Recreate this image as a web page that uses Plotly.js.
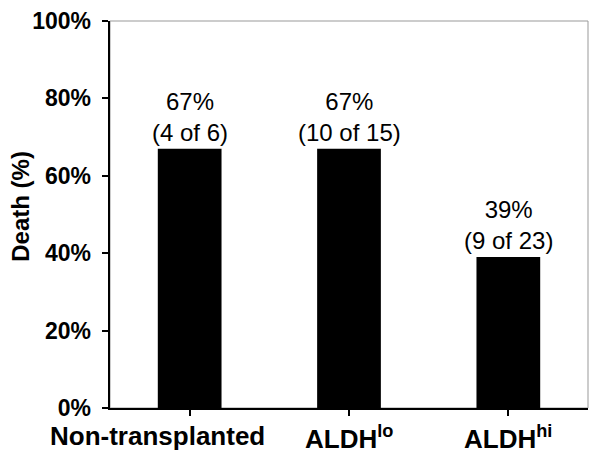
<!DOCTYPE html>
<html>
<head>
<meta charset="utf-8">
<script src="https://cdn.plot.ly/plotly-3.0.1.min.js"></script>
<style>
  html, body { margin: 0; padding: 0; background: #fff; }
  #myDiv { width: 602px; height: 464px; }
</style>
</head>
<body>
<div id="myDiv"></div>
<script>
// groups and death rates
var categories = ['Non-transplanted', 'ALDH<sup>lo</sup>', 'ALDH<sup>hi</sup>'];
var deathPct = [67, 67, 39];
var deaths = [4, 10, 9];
var totals = [6, 15, 23];
var yTicks = [0, 20, 40, 60, 80, 100];
var yTitle = 'Death (%)';

var xIdx = [0, 1, 2];
var fontFam = 'Liberation Sans, Arial, sans-serif';

var trace0 = {
    x: xIdx,
    y: deathPct,
    type: 'bar',
    width: 0.4,
    marker: { color: '#000000', line: { width: 0 } },
    hoverinfo: 'none'
};

var annotations = [];
for (var i = 0; i < categories.length; i++) {
    // value labels above bars
    annotations.push({
        x: xIdx[i], y: deathPct[i], xref: 'x', yref: 'y',
        text: deathPct[i] + '%<br>(' + deaths[i] + ' of ' + totals[i] + ')',
        showarrow: false, yanchor: 'bottom', yshift: 1,
        font: { family: fontFam, size: 24, color: '#000' }
    });
    // category labels under the axis
    annotations.push({
        x: xIdx[i], y: 0, xref: 'x', yref: 'paper',
        text: categories[i],
        showarrow: false, yanchor: 'top', yshift: -11,
        xshift: i === 0 ? -32 : 0,
        font: { family: fontFam, size: 26, color: '#000', weight: 'bold' }
    });
}
// y axis title, placed by hand
annotations.push({
    x: 0, y: 0.52, xref: 'paper', yref: 'paper',
    text: yTitle, textangle: -90,
    showarrow: false, xanchor: 'center', yanchor: 'middle', xshift: -89,
    font: { family: fontFam, size: 24, color: '#000', weight: 'bold' }
});

var layout = {
    width: 602,
    height: 464,
    margin: { l: 110, r: 14, t: 21, b: 56 },
    paper_bgcolor: '#fff',
    plot_bgcolor: '#fff',
    showlegend: false,
    font: { family: fontFam, color: '#000' },
    xaxis: {
        range: [-0.5, 2.5],
        tickvals: xIdx,
        showticklabels: false,
        ticks: 'outside',
        tickson: 'boundaries',
        ticklen: 6,
        tickwidth: 2,
        tickcolor: '#000',
        showline: true,
        linewidth: 2,
        linecolor: '#000',
        showgrid: false,
        zeroline: false,
        fixedrange: true
    },
    yaxis: {
        range: [0, 100],
        tickvals: yTicks,
        ticktext: yTicks.map(function (v) { return v + '%\u00a0'; }),
        tickfont: { size: 23, weight: 'bold', color: '#000' },
        ticks: 'outside',
        ticklen: 6,
        tickwidth: 2,
        tickcolor: '#000',
        showline: true,
        linewidth: 2,
        linecolor: '#000',
        showgrid: false,
        zeroline: false,
        fixedrange: true
    },
    shapes: [{
        type: 'rect', xref: 'paper', yref: 'paper',
        x0: 0, x1: 1, y0: 0, y1: 1,
        line: { color: '#999', width: 1 },
        layer: 'below'
    }],
    annotations: annotations
};

Plotly.newPlot('myDiv', [trace0], layout, { displayModeBar: false, staticPlot: true });
</script>
</body>
</html>
